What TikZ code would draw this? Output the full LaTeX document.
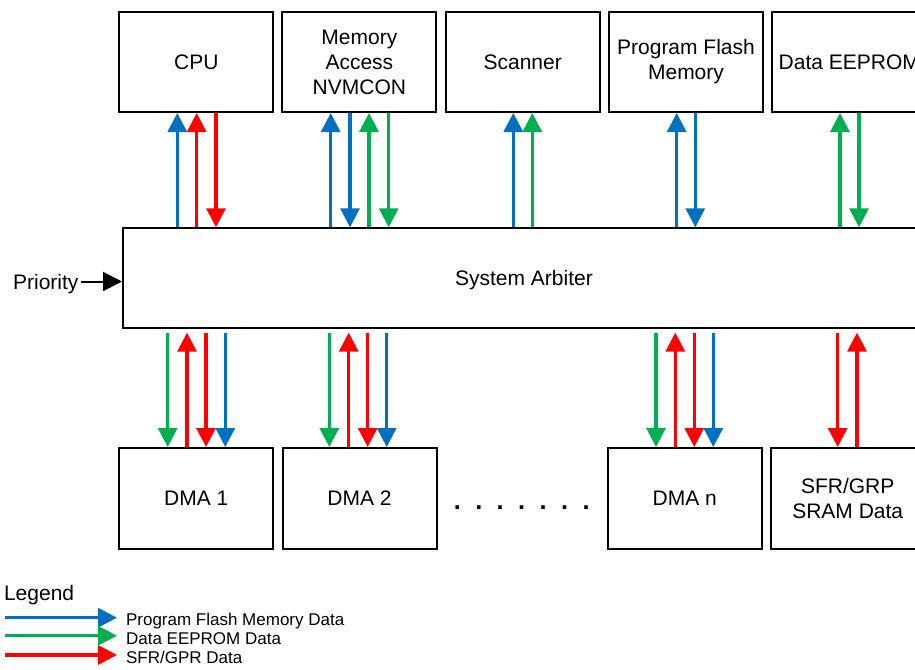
\documentclass[tikz,border=0pt]{standalone}
\usepackage{fontspec}
\setmainfont{Liberation Sans}
\usetikzlibrary{arrows.meta}
\definecolor{pfblue}{HTML}{0070C0}
\definecolor{eegreen}{HTML}{00B050}
\definecolor{sfred}{HTML}{FF0000}
\newcommand\mfs{\fontsize{15.75pt}{18.75pt}\selectfont}
\newcommand\lfs{\fontsize{12.75pt}{14.25pt}\selectfont}
\newcommand\dfs{\fontsize{19pt}{20pt}\selectfont}
\newcommand\vlink[4]{\coordinate (vl) at (#2,0); \draw[#1] (vl |- #4.north) -- (vl |- #3.south);}
\begin{document}
\begin{tikzpicture}[x=0.75pt,y=-0.75pt,
  box/.style={draw, line width=1.5pt, inner sep=0pt, minimum width=154*0.75pt,
    minimum height=100*0.75pt, align=center, font=\mfs},
  tri/.tip={Triangle[length=14.25pt,width=14.25pt]},
  pf/.style={draw=pfblue, line width=2.3pt},
  ee/.style={draw=eegreen, line width=2.3pt},
  sf/.style={draw=sfred, line width=2.3pt},
  upw/.style={-tri},
  dnw/.style={tri-},
  gapb/.style={shorten >=2.5pt},
  txt/.style={inner sep=0pt, font=\mfs},
  ltxt/.style={inner sep=0pt, font=\lfs, anchor=base west}]
\useasboundingbox (0,0) rectangle (915,669);
\clip (0,0) rectangle (915,669);
% top boxes
\node[box] (cpu)  at (196.3,62) {CPU};
\node[box] (mem)  at (359.4,62) {Memory\\Access\\NVMCON};
\node[box] (scan) at (522.7,62) {Scanner};
\node[box] (pfm)  at (686,62)   {Program Flash\\Memory};
\node[box] (eep)  at (849.3,62) {Data EEPROM};
% arbiter
\node[box, minimum width=802*0.75pt, text depth=0pt] (arb) at (524,278.3) {System Arbiter};
% bottom boxes
\node[box, minimum height=101*0.75pt] (dma1) at (196.3,498.5) {DMA 1};
\node[box, minimum height=101*0.75pt] (dma2) at (359.5,498.5) {DMA 2};
\node[box, minimum height=101*0.75pt] (dman) at (684.7,498.5) {DMA n};
\node[box, minimum height=101*0.75pt] (sfr)  at (847.7,498.5) {SFR/GRP\\SRAM Data};
\node[txt, anchor=base, font=\dfs\bfseries] (dots) at (521.7,509)
  {\spaceskip=10.8pt\xspaceskip=10.8pt\relax . . . . . . .};
% priority
\node[txt, anchor=base west, inner xsep=2.5pt] (prio) at (9.5,289.5) {Priority};
\coordinate (pa) at ([yshift=6pt]prio.base east);
\draw[line width=1.5pt, -tri] ([xshift=-1pt]pa) -- (pa -| arb.west);
% top connectors
\vlink{pf,upw}{177.3}{cpu}{arb}
\vlink{sf,upw}{196.7}{cpu}{arb}
\vlink{sf,dnw}{216}{cpu}{arb}
\vlink{pf,upw}{330.7}{mem}{arb}
\vlink{pf,dnw}{350}{mem}{arb}
\vlink{ee,upw}{369}{mem}{arb}
\vlink{ee,dnw}{388.7}{mem}{arb}
\vlink{pf,upw}{513.3}{scan}{arb}
\vlink{ee,upw}{532.3}{scan}{arb}
\vlink{pf,upw}{676.7}{pfm}{arb}
\vlink{pf,dnw}{695.3}{pfm}{arb}
\vlink{ee,upw}{840}{eep}{arb}
\vlink{ee,dnw}{859}{eep}{arb}
% bottom connectors
\vlink{ee,dnw,gapb}{167.7}{arb}{dma1}
\vlink{sf,upw,gapb}{187}{arb}{dma1}
\vlink{sf,dnw,gapb}{206}{arb}{dma1}
\vlink{pf,dnw,gapb}{225.3}{arb}{dma1}
\vlink{ee,dnw,gapb}{329.3}{arb}{dma2}
\vlink{sf,upw,gapb}{348.7}{arb}{dma2}
\vlink{sf,dnw,gapb}{367.7}{arb}{dma2}
\vlink{pf,dnw,gapb}{386.7}{arb}{dma2}
\vlink{ee,dnw,gapb}{656}{arb}{dman}
\vlink{sf,upw,gapb}{675.3}{arb}{dman}
\vlink{sf,dnw,gapb}{694.3}{arb}{dman}
\vlink{pf,dnw,gapb}{713.3}{arb}{dman}
\vlink{sf,dnw,gapb}{837.7}{arb}{sfr}
\vlink{sf,upw,gapb}{857}{arb}{sfr}
% legend
\node[txt, anchor=base west] (leg) at (3.8,600) {Legend};
\coordinate (l1a) at (5,617.7); \coordinate (l1b) at (117,617.7);
\coordinate (l2a) at (5,635.7); \coordinate (l2b) at (117,635.7);
\coordinate (l3a) at (5,655);   \coordinate (l3b) at (117,655);
\draw[pf,-tri] (l1a) -- (l1b);
\draw[ee,-tri] (l2a) -- (l2b);
\draw[sf,-tri] (l3a) -- (l3b);
\node[ltxt] (lt1) at (125.8,625)   {Program Flash Memory Data};
\node[ltxt] (lt2) at (125.8,644)   {Data EEPROM Data};
\node[ltxt] (lt3) at (125.8,663.3) {SFR/GPR Data};
\end{tikzpicture}
\end{document}
